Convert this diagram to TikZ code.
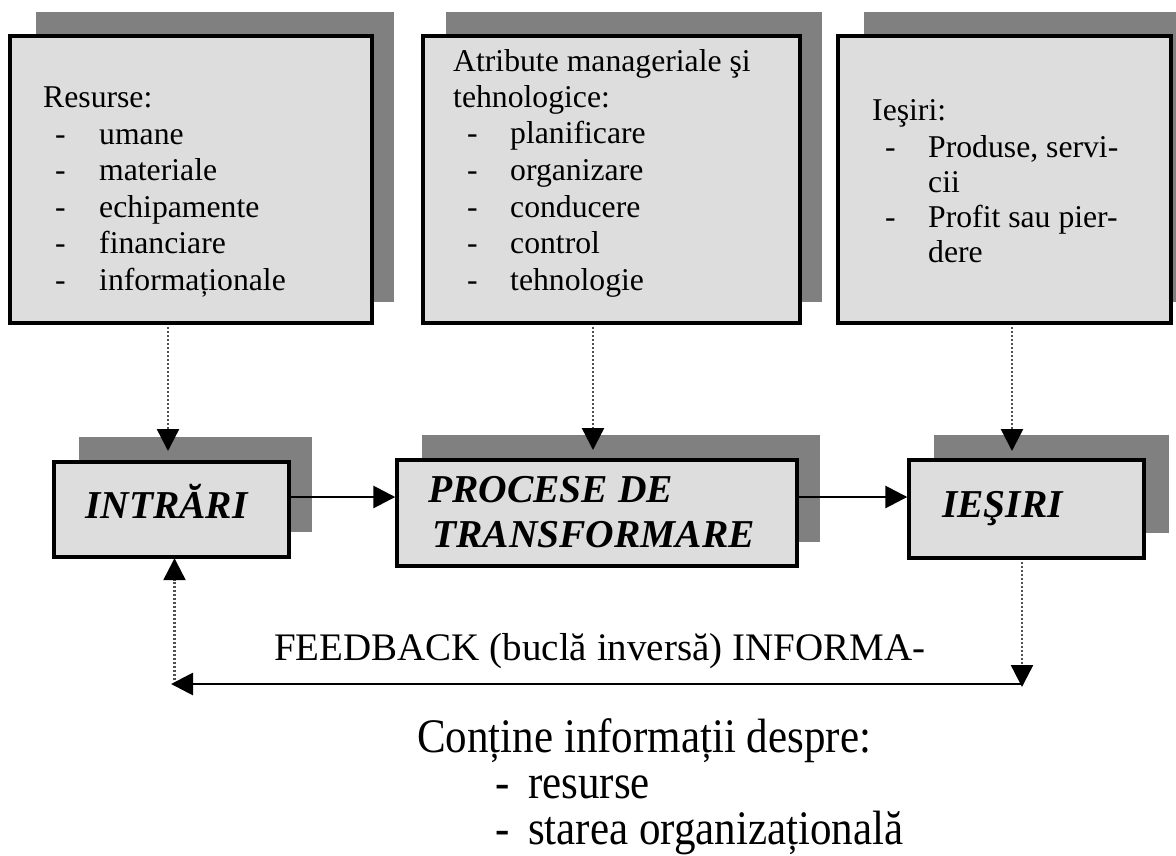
\documentclass[tikz,border=0pt]{standalone}
\usepackage{fontspec}
\setmainfont{Liberation Serif}
\usetikzlibrary{arrows.meta}
\definecolor{shadec}{HTML}{808080}
\definecolor{boxfill}{HTML}{DDDDDD}
\definecolor{dotc}{HTML}{505050}
\newcommand\dashitem[2][43pt]{\makebox[#1][l]{-}#2}
\newcommand\tallsc[1]{\scalebox{1}[1.12]{#1}}
\begin{document}
\begin{tikzpicture}[x=1pt,y=-1pt,
  frame/.style={draw=black, line width=3.4pt, fill=boxfill, inner sep=0pt},
  shadowbox/.style={fill=shadec},
  txt/.style={anchor=base west, inner sep=0pt, font=\fontsize{31.7}{36}\selectfont},
  big/.style={anchor=base west, inner sep=0pt, font=\fontsize{39.5}{45}\selectfont\bfseries\itshape},
  low/.style={anchor=base west, inner sep=0pt, font=\fontsize{43}{48}\selectfont},
  fbtext/.style={anchor=base west, inner sep=0pt, font=\fontsize{39}{44}\selectfont},
  tip/.style={-{Triangle[length=22pt,width=22pt,color=black]}},
  dotline/.style={draw=dotc, line width=2.4pt, dash pattern=on 2pt off 2pt},
  solidarrow/.style={draw=black, line width=2.8pt}
]
\useasboundingbox (0,0) rectangle (1176,855);

% shadows
\fill[shadowbox] (36,12) rectangle (394,302);
\fill[shadowbox] (446,12) rectangle (822,302);
\fill[shadowbox] (864,12) rectangle (1176,302);
\fill[shadowbox] (79,437) rectangle (312,532);
\fill[shadowbox] (422,435) rectangle (820,542);
\fill[shadowbox] (934,435) rectangle (1169,533);

% frames
\node[frame, minimum width=362pt, minimum height=287pt] (b1) at (191,179.5) {};
\node[frame, minimum width=377pt, minimum height=287pt] (b2) at (611.5,179.5) {};
\node[frame, minimum width=333pt, minimum height=287pt] (b3) at (1004.5,179.5) {};
\node[frame, minimum width=235pt, minimum height=95pt] (in) at (171.5,509.5) {};
\node[frame, minimum width=400pt, minimum height=106pt] (pr) at (597,513) {};
\node[frame, minimum width=235pt, minimum height=98pt] (ie) at (1026.5,509) {};

% box 1 text
\node[txt] (r0) at (43,107) {Resurse:};
\node[txt] (r1) at (55,144) {\dashitem[44pt]{umane}};
\node[txt] (r2) at (55,180) {\dashitem[44pt]{materiale}};
\node[txt] (r3) at (55,217) {\dashitem[44pt]{echipamente}};
\node[txt] (r4) at (55,253) {\dashitem[44pt]{financiare}};
\node[txt] (r5) at (55,290) {\dashitem[44pt]{informaționale}};

% box 2 text
\node[txt] (m0) at (453,71) {Atribute manageriale şi};
\node[txt] (m0b) at (453,107) {tehnologice:};
\node[txt] (m1) at (467,143) {\dashitem{planificare}};
\node[txt] (m2) at (467,180) {\dashitem{organizare}};
\node[txt] (m3) at (467,217) {\dashitem{conducere}};
\node[txt] (m4) at (467,253) {\dashitem{control}};
\node[txt] (m5) at (467,290) {\dashitem{tehnologie}};

% box 3 text
\node[txt] (o0) at (872,120) {Ieşiri:};
\node[txt] (o1) at (885,157) {\dashitem{Produse, servi-}};
\node[txt] (o1b) at (928,192) {cii};
\node[txt] (o2) at (885,227) {\dashitem{Profit sau pier-}};
\node[txt] (o2b) at (928,262) {dere};

% main boxes text
\node[big] (inT) at (85,518) {INTRĂRI};
\node[big] (prT1) at (428,502) {PROCESE DE};
\node[big] (prT2) at (432,547) {TRANSFORMARE};
\node[big] (ieT) at (942,517) {IEŞIRI};

% connector coordinates
\coordinate (t1) at (168,451);
\coordinate (t2) at (593,450);
\coordinate (t3) at (1012,451);
\coordinate (fbR) at (1022,684);
\coordinate (fbL) at (171,684);
\coordinate (d3) at (1022,687);
\coordinate (u1) at (174.5,680);

% dotted arrows from top boxes
\draw[dotline,tip,shorten <=2.5pt] (b1.south -| t1) -- (t1);
\draw[dotline,tip,shorten <=2.5pt] (b2.south -| t2) -- (t2);
\draw[dotline,tip,shorten <=2.5pt] (b3.south -| t3) -- (t3);

% process arrows
\draw[solidarrow,tip] ([yshift=12.5pt]in.east) -- ([yshift=16pt]pr.west);
\draw[solidarrow,tip] ([yshift=16pt]pr.east) -- ([yshift=12pt]ie.west);

% feedback
\draw[dotline,tip,shorten <=2.5pt] (ie.south -| d3) -- (d3);
\draw[solidarrow,tip] (fbR) -- (fbL);
\draw[dotline,tip,shorten >=-0.5pt] (u1) -- (u1 |- in.south);

\node[fbtext] (fb) at (274,660) {FEEDBACK (buclă inversă) INFORMA-};
\node[low] (c0) at (417,752) {\tallsc{Conține informații despre:}};
\node[low] (c1) at (495,798) {\tallsc{\dashitem[33pt]{resurse}}};
\node[low] (c2) at (495,844) {\tallsc{\dashitem[33pt]{starea organizațională}}};
\end{tikzpicture}
\end{document}
